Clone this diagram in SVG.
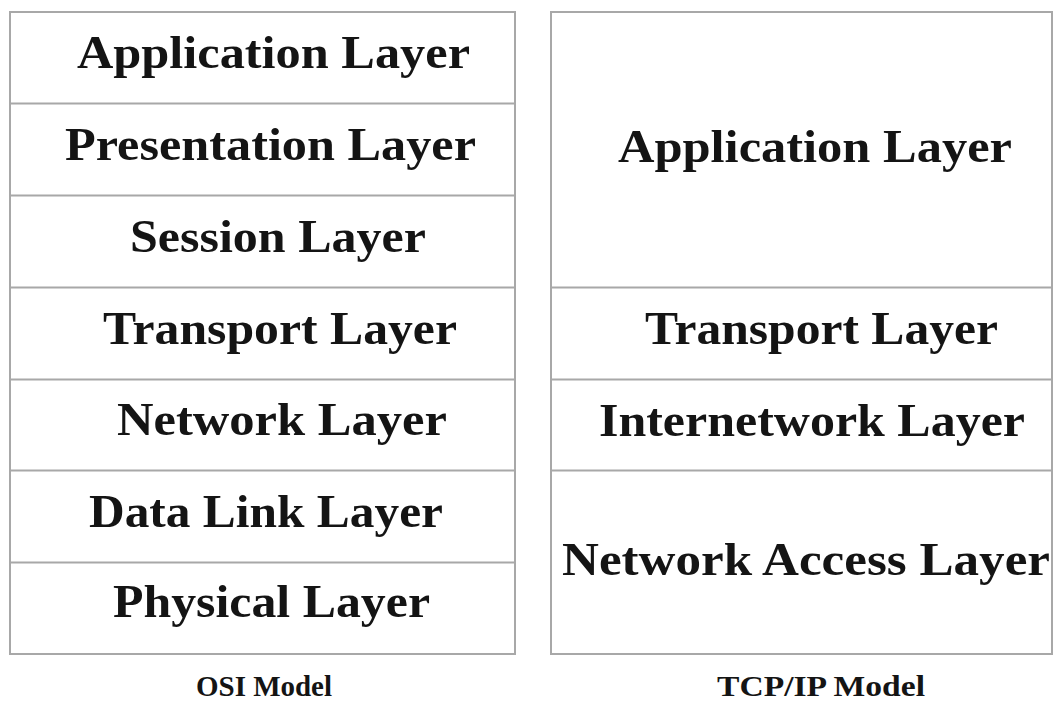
<svg xmlns="http://www.w3.org/2000/svg" width="1055" height="702" viewBox="0 0 1055 702">
  <style>
    .box { fill: #ffffff; stroke: #a8a8a8; stroke-width: 2; }
    .sep { stroke: #a8a8a8; stroke-width: 2; }
    .lbl { font-family: "Liberation Serif", "DejaVu Serif", serif; font-weight: bold; font-size: 47px; fill: #141414; text-anchor: middle; }
    .cap { font-family: "Liberation Serif", "DejaVu Serif", serif; font-weight: bold; font-size: 30px; fill: #141414; text-anchor: middle; }
  </style>
  <rect width="1055" height="702" fill="#ffffff"/>

  <!-- OSI model stack -->
  <g id="osi">
    <rect class="box" x="10" y="12" width="505" height="642"/>
    <g id="osi-application"><text class="lbl" x="273.5" y="68" textLength="393" lengthAdjust="spacingAndGlyphs">Application Layer</text></g>
    <line class="sep" x1="10" y1="103.5" x2="515" y2="103.5"/>
    <g id="osi-presentation"><text class="lbl" x="270.5" y="160" textLength="411" lengthAdjust="spacingAndGlyphs">Presentation Layer</text></g>
    <line class="sep" x1="10" y1="195.5" x2="515" y2="195.5"/>
    <g id="osi-session"><text class="lbl" x="278" y="252" textLength="296" lengthAdjust="spacingAndGlyphs">Session Layer</text></g>
    <line class="sep" x1="10" y1="287.5" x2="515" y2="287.5"/>
    <g id="osi-transport"><text class="lbl" x="280" y="344" textLength="354" lengthAdjust="spacingAndGlyphs">Transport Layer</text></g>
    <line class="sep" x1="10" y1="379.5" x2="515" y2="379.5"/>
    <g id="osi-network"><text class="lbl" x="282" y="435" textLength="330" lengthAdjust="spacingAndGlyphs">Network Layer</text></g>
    <line class="sep" x1="10" y1="470.5" x2="515" y2="470.5"/>
    <g id="osi-datalink"><text class="lbl" x="266" y="527" textLength="354" lengthAdjust="spacingAndGlyphs">Data Link Layer</text></g>
    <line class="sep" x1="10" y1="562.5" x2="515" y2="562.5"/>
    <g id="osi-physical"><text class="lbl" x="271.5" y="617" textLength="317" lengthAdjust="spacingAndGlyphs">Physical Layer</text></g>
  </g>
  <g id="osi-caption"><text class="cap" x="264" y="696" textLength="136" lengthAdjust="spacingAndGlyphs">OSI Model</text></g>

  <!-- TCP/IP model stack -->
  <g id="tcpip">
    <rect class="box" x="551" y="12" width="501" height="642"/>
    <g id="tcp-application"><text class="lbl" x="815" y="162" textLength="394" lengthAdjust="spacingAndGlyphs">Application Layer</text></g>
    <line class="sep" x1="551" y1="287.5" x2="1052" y2="287.5"/>
    <g id="tcp-transport"><text class="lbl" x="821.5" y="344" textLength="353" lengthAdjust="spacingAndGlyphs">Transport Layer</text></g>
    <line class="sep" x1="551" y1="379.5" x2="1052" y2="379.5"/>
    <g id="tcp-internetwork"><text class="lbl" x="812" y="436" textLength="426" lengthAdjust="spacingAndGlyphs">Internetwork Layer</text></g>
    <line class="sep" x1="551" y1="470.5" x2="1052" y2="470.5"/>
    <g id="tcp-netaccess"><text class="lbl" x="806" y="575" textLength="488" lengthAdjust="spacingAndGlyphs">Network Access Layer</text></g>
  </g>
  <g id="tcpip-caption"><text class="cap" x="821" y="696" textLength="208" lengthAdjust="spacingAndGlyphs">TCP/IP Model</text></g>
</svg>
